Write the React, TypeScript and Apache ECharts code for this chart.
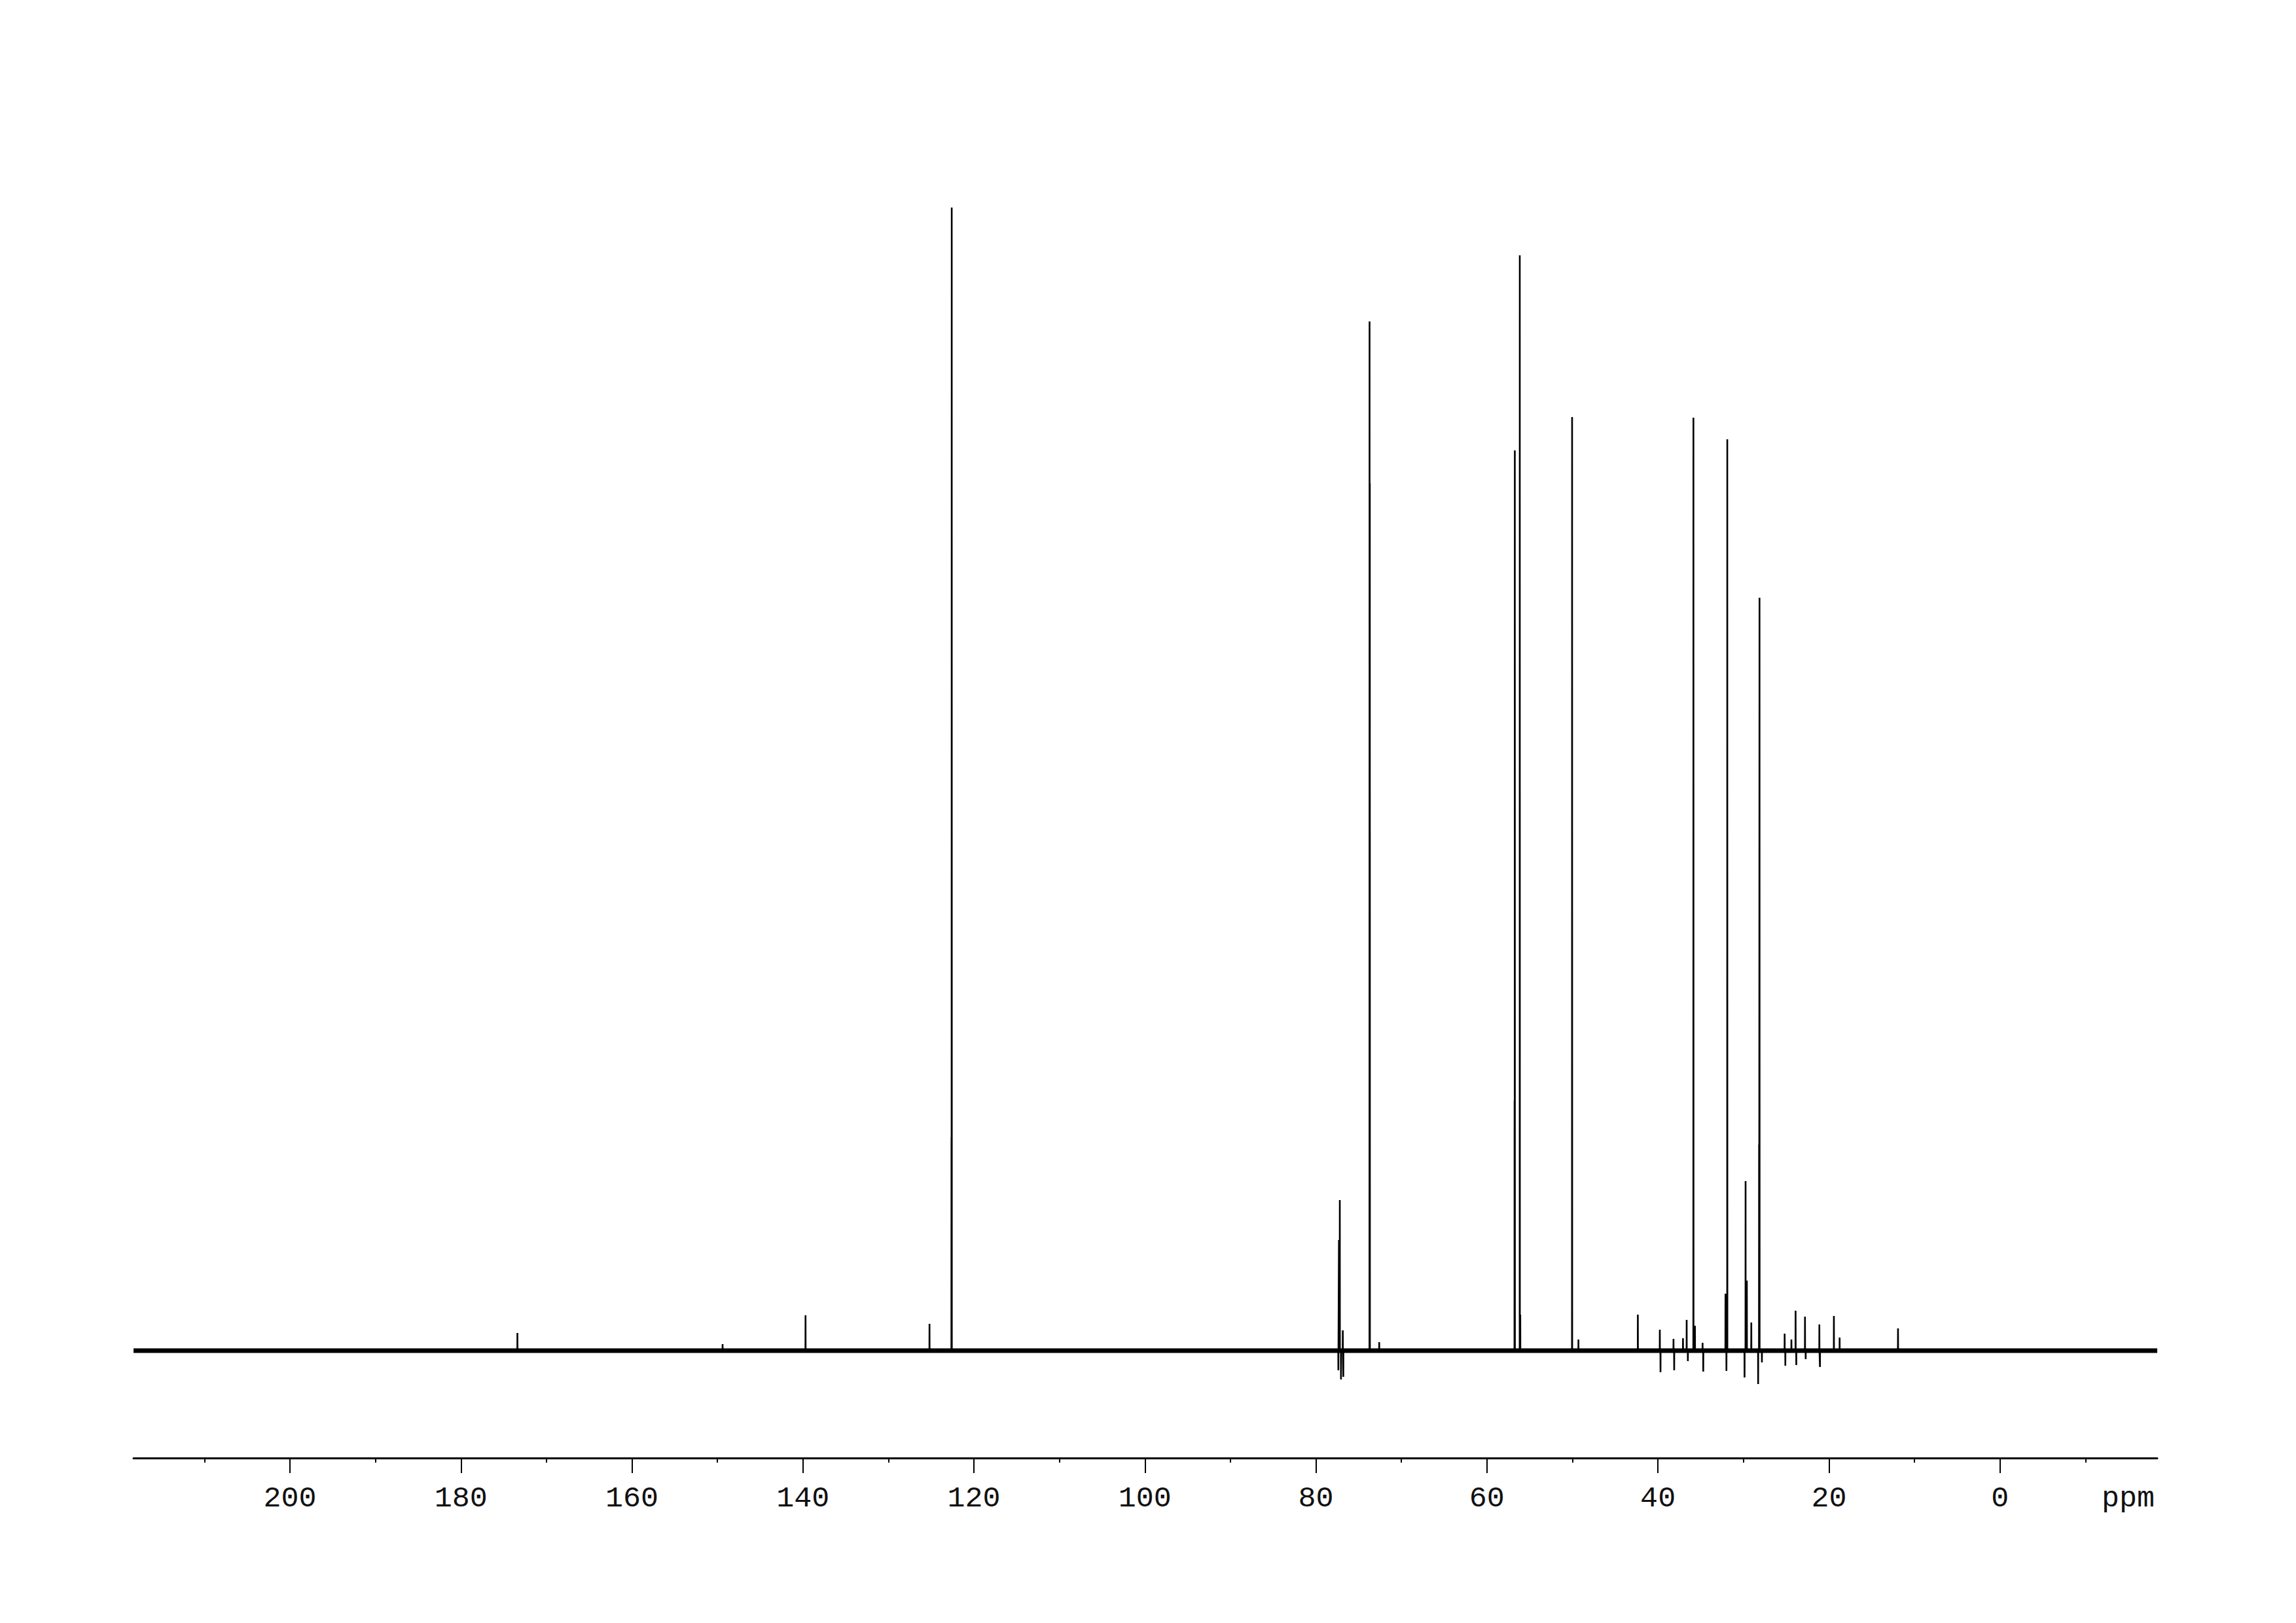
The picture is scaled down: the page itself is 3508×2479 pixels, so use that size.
import React, { useEffect, useRef } from "react";
import * as echarts from "echarts";

// Axis range (ppm), high field on the right
const ppmMax = 218.3;
const ppmMin = -18.4;
const majorTicks = [0, 20, 40, 60, 80, 100, 120, 140, 160, 180, 200];
const minorTicks = [-10, 10, 30, 50, 70, 90, 110, 130, 150, 170, 190, 210];
const unitLabelPos = -15;
const unitLabel = "ppm";

// Signal sticks: position (ppm) and intensity (a.u.)
const peakPpm = [
  173.4, 149.4, 139.7, 125.2, 122.63, 122.6,
  77.38, 77.31, 77.21, 77.07, 76.86, 76.8, 72.6,
  73.73, 73.7,
  56.77, 56.74, 56.16, 56.1,
  50.04, 49.3,
  42.35, 39.78, 39.7, 38.18, 38.1, 37.07, 36.64, 36.5,
  35.85, 35.67, 34.78, 34.7,
  32.1, 31.99, 31.89,
  29.87, 29.75, 29.6, 29.08,
  28.28, 28.17, 28.12, 27.84,
  25.18, 25.1, 24.39, 23.9, 23.82, 22.8, 22.72, 21.12, 21.05,
  19.42, 18.75, 11.92,
];
const peakHeight = [
  27, 10, 54, 41, 326, 1746,
  -30, 169, 230, -44, 31, -40, 13,
  1572, 1325,
  382, 1375, 1673, 55,
  1426, 17,
  55, 32, -33, 18, -30, 19, 47, -16,
  1425, 38, 12, -32,
  87, -31, 1392,
  -41, 259, 107, 43,
  -51, 315, 1150, -18,
  26, -23, 17, 61, -22, 52, -13, 40, -25,
  53, 20, 34,
];

export default function App() {
  const ref = useRef<HTMLDivElement>(null);
  useEffect(() => {
    if (!ref.current) return;
    const chart = echarts.init(ref.current, undefined, { renderer: "svg" });

    const sticks = peakPpm
      .map((p, i) => [p, peakHeight[i]] as [number, number])
      .sort((a, b) => b[0] - a[0]);
    const spectrum: [number, number][] = [[ppmMax, 0]];
    const hw = 0.012;
    for (const [p, h] of sticks) {
      spectrum.push([p + hw, 0]);
      spectrum.push([p, h]);
      spectrum.push([p - hw, 0]);
    }
    spectrum.push([ppmMin, 0]);

    const fontFamily = "'Liberation Mono', 'DejaVu Sans Mono', monospace";

    chart.setOption({
      animation: false,
      backgroundColor: "#ffffff",
      grid: {
        left: 204,
        right: 212,
        top: 200,
        bottom: 252,
        containLabel: false,
        outerBoundsMode: "none",
      },
      xAxis: [
        {
          type: "value",
          inverse: true,
          min: ppmMin,
          max: ppmMax,
          position: "bottom",
          axisLine: { show: true, onZero: false, lineStyle: { color: "#000", width: 3 } },
          axisTick: {
            show: true,
            length: 23,
            lineStyle: { color: "#000", width: 2 },
            customValues: majorTicks,
          },
          axisLabel: {
            show: true,
            customValues: [...majorTicks, unitLabelPos],
            formatter: (v: number) => (v === unitLabelPos ? unitLabel : String(v)),
            margin: 40,
            fontFamily,
            fontSize: 45,
            color: "#111",
          },
          splitLine: { show: false },
        },
        {
          type: "value",
          inverse: true,
          min: ppmMin,
          max: ppmMax,
          position: "bottom",
          axisLine: { show: false, onZero: false },
          axisTick: {
            show: true,
            length: 7,
            lineStyle: { color: "#000", width: 2 },
            customValues: minorTicks,
          },
          axisLabel: { show: false },
          splitLine: { show: false },
        },
      ],
      yAxis: {
        type: "value",
        min: -164,
        max: 1863,
        show: false,
        splitLine: { show: false },
      },
      series: [
        {
          type: "line",
          xAxisIndex: 0,
          data: [
            [ppmMax, 0],
            [ppmMin, 0],
          ],
          symbol: "none",
          lineStyle: { color: "#000", width: 7 },
          silent: true,
        },
        {
          type: "line",
          xAxisIndex: 0,
          data: spectrum,
          symbol: "none",
          showSymbol: false,
          lineStyle: { color: "#000", width: 2.6 },
          silent: true,
        },
      ],
    });
    return () => chart.dispose();
  }, []);

  return (
    <div
      ref={ref}
      style={{ position: "absolute", left: 0, top: 0, width: 3508, height: 2479, background: "#fff" }}
    />
  );
}
